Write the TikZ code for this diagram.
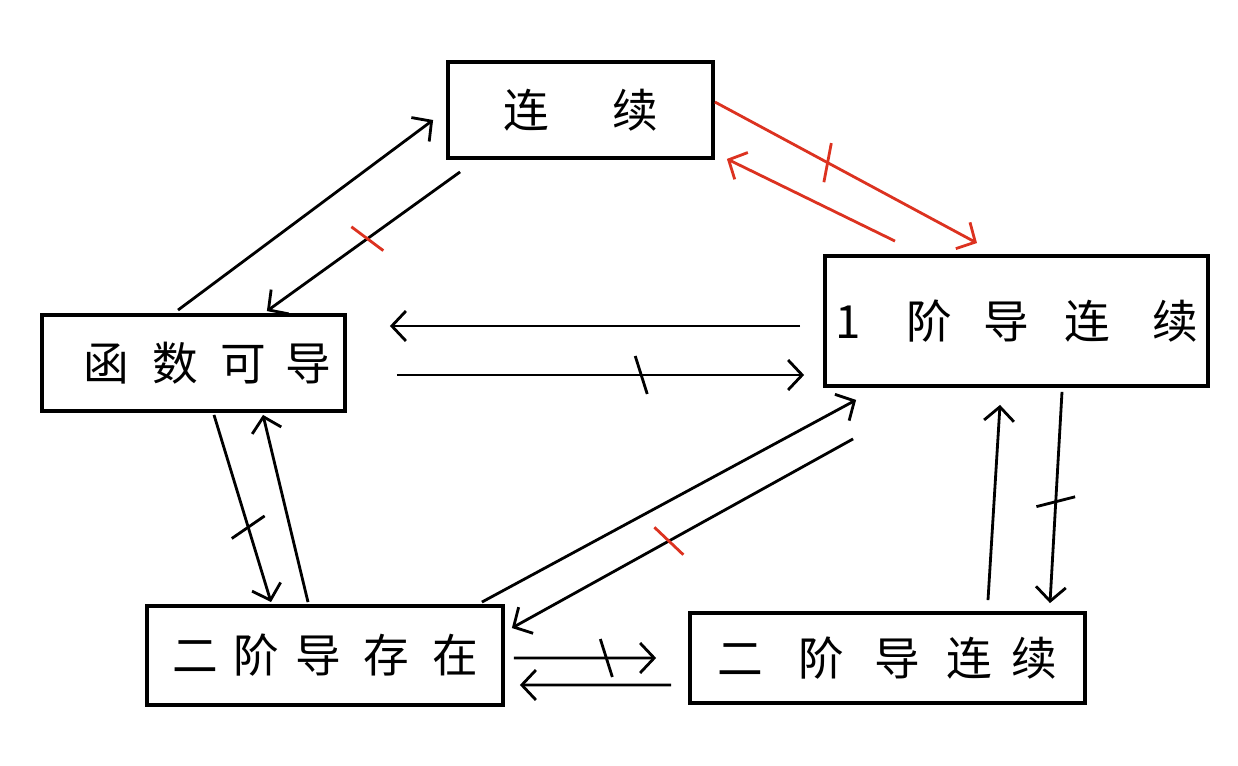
\documentclass[tikz,border=0pt]{standalone}
\usepackage{fontspec}
\newfontfamily\cjk{Noto Sans CJK SC}
\usepackage{tikz}
\usetikzlibrary{arrows.meta,calc,decorations.markings}
\definecolor{inkred}{RGB}{220,50,32}
\tikzset{
	box/.style={draw, line width=2.2pt, inner sep=0pt, font=\cjk\fontsize{26}{30}\selectfont},
	arr/.style={line width=1.6pt, -{Straight Barb[length=8pt,width=17pt]}},
	nott/.style 2 args={postaction={decorate, decoration={markings, mark=at position #1 with {\draw[#2, line width=1.6pt, -] (-6,-19) -- (6,19);}}}}
}

\begin{document}
\begin{tikzpicture}[x=0.02cm, y=-0.02cm]
		\useasboundingbox (0,0) rectangle (1238,766);
		\node[box, minimum width=5.3cm, minimum height=1.92cm] (lx) at (580.5,110) {连\hspace{36pt}续};
		\node[box, minimum width=6.06cm, minimum height=1.92cm] (kd) at (193.5,363) {\hspace{16pt}函\hspace{13pt}数\hspace{13pt}可\hspace{11pt}导};
		\node[box, minimum width=7.66cm, minimum height=2.6cm] (yj) at (1016.5,321) {1\hspace{26pt}阶\hspace{18pt}导\hspace{20pt}连\hspace{24pt}续};
		\node[box, minimum width=7.12cm, minimum height=1.98cm] (ec) at (325,655.5) {二\hspace{9pt}阶\hspace{9pt}导\hspace{13pt}存\hspace{13pt}在};
		\node[box, minimum width=7.9cm, minimum height=1.8cm] (el) at (887.5,658) {二\hspace{20pt}阶\hspace{17pt}导\hspace{15pt}连\hspace{11pt}续};

		\draw[arr] ($(kd.north)+(-15.5,-3)$) -- ($(lx.west)+(-13,10)$);
		\draw[arr, nott={0.48}{inkred}] ($(lx.south west)+(14,12)$) -- ($(kd.north east)+(-80,-2)$);
		\draw[arr, inkred, nott={0.43}{inkred}] ($(lx.east)+(0,-8)$) -- ($(yj.north)+(-39.5,-11)$);
		\draw[arr, inkred] ($(yj.north)+(-121.5,-13)$) -- ($(lx.south east)+(12,-1)$);
		\draw[arr] ($(yj.west)+(-23,5)$) -- ($(kd.east)+(43,-37)$);
		\draw[arr, nott={0.6}{black}] ($(kd.east)+(50,12)$) -- ($(yj.west)+(-19,54)$);
		\draw[arr, nott={0.6}{black}] ($(kd.south)+(20.5,2)$) -- ($(ec.north)+(-54,-2)$);
		\draw[arr] ($(ec.north)+(-17,-2)$) -- ($(kd.south)+(69.5,2)$);
		\draw[arr] ($(ec.north east)+(-23,-2)$) -- ($(yj.south west)+(33,12)$);
		\draw[arr, nott={0.54}{inkred}] ($(yj.south west)+(30,51)$) -- ($(ec.east)+(7,-27.5)$);
		\draw[arr, nott={0.65}{black}] ($(ec.east)+(9,2.5)$) -- ($(el.west)+(-32,0)$);
		\draw[arr] ($(el.west)+(-17,27)$) -- ($(ec.east)+(15,29.5)$);
		\draw[arr] ($(el.north)+(100.5,-11)$) -- ($(yj.south)+(-16.5,17)$);
		\draw[arr, nott={0.52}{black}] ($(yj.south)+(45.5,4)$) -- ($(el.north)+(162.5,-8)$);
	\end{tikzpicture}
\end{document}
